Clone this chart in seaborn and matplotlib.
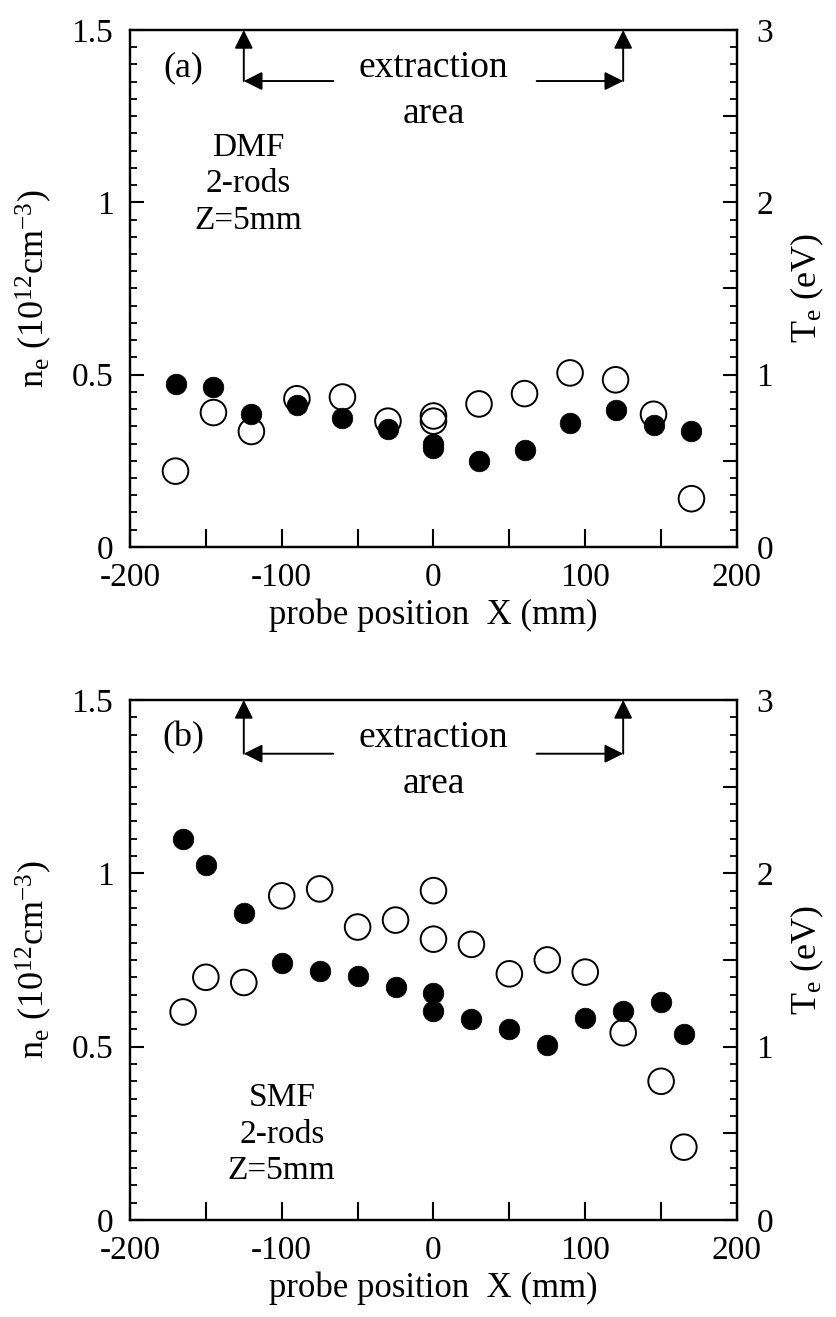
import numpy as np
import pandas as pd
import matplotlib
matplotlib.use("Agg")
import matplotlib.pyplot as plt
from matplotlib.ticker import MultipleLocator, FuncFormatter
import seaborn as sns

# ---------------- data ----------------
# panel (a): DMF
xa_ne = [-170, -145, -120, -90, -60, -30, 0, 0, 30, 60, 90, 120, 145, 170]
ne_a = [0.474, 0.464, 0.387, 0.411, 0.374, 0.342, 0.298, 0.286, 0.25, 0.281, 0.361, 0.398, 0.353, 0.337]
xa_te = [-170, -145, -120, -90, -60, -30, 0, 0, 30, 60, 90, 120, 145, 170]
te_a = [0.44, 0.78, 0.67, 0.86, 0.87, 0.73, 0.76, 0.73, 0.83, 0.89, 1.01, 0.97, 0.77, 0.28]

# panel (b): SMF
xb_ne = [-165, -150, -125, -100, -75, -50, -25, 0, 0, 25, 50, 75, 100, 125, 150, 165]
ne_b = [1.099, 1.024, 0.886, 0.740, 0.718, 0.705, 0.673, 0.656, 0.603, 0.580, 0.552, 0.505, 0.582, 0.603, 0.628, 0.536]
xb_te = [-165, -150, -125, -100, -75, -50, -25, 0, 0, 25, 50, 75, 100, 125, 150, 165]
te_b = [1.20, 1.40, 1.37, 1.87, 1.91, 1.69, 1.73, 1.90, 1.62, 1.59, 1.42, 1.50, 1.43, 1.08, 0.80, 0.42]

panel_tags = ["(a)", "(b)"]
conditions = [["DMF", "2-rods", "Z=5mm"], ["SMF", "2-rods", "Z=5mm"]]
x_ticklabels = [-200, -100, 0, 100, 200]

# ---------------- style ----------------
sns.set_theme(style="ticks")
plt.rcParams["font.family"] = ["Liberation Serif", "DejaVu Serif"]
plt.rcParams["mathtext.fontset"] = "custom"
plt.rcParams["mathtext.rm"] = "Liberation Serif"
plt.rcParams["mathtext.it"] = "Liberation Serif:italic"
plt.rcParams["mathtext.default"] = "regular"
plt.rcParams["axes.unicode_minus"] = False
plt.rcParams["axes.linewidth"] = 1.6
for key in ["text.color", "axes.labelcolor", "xtick.color", "ytick.color",
            "axes.edgecolor", "xtick.labelcolor", "ytick.labelcolor"]:
    plt.rcParams[key] = "black"

fig = plt.figure(figsize=(8.37, 13.17), dpi=100)
ax_a = fig.add_axes([0.1553, 0.5847, 0.7252, 0.3925])
ax_b = fig.add_axes([0.1553, 0.0737, 0.7252, 0.3948])

arrow_kw = dict(arrowstyle="-|>", mutation_scale=28, lw=1.4, color="black",
                shrinkA=0, shrinkB=0)


def setup(ax, xs_ne, ne, xs_te, te, tag, cond, cond_x, cond_y, ytxt, yarr):
    sns.scatterplot(x=xs_ne, y=ne, ax=ax, color="black", s=220, marker="o",
                    edgecolor="black", linewidth=0.5, zorder=3, legend=False)
    ax.set_xlim(-200, 200)
    ax.set_ylim(0, 1.5)
    ax.xaxis.set_major_locator(MultipleLocator(50))
    ax.xaxis.set_major_formatter(FuncFormatter(
        lambda v, p: f"{int(round(v))}" if int(round(v)) in x_ticklabels else ""))
    ax.yaxis.set_major_locator(MultipleLocator(0.5))
    ax.yaxis.set_minor_locator(MultipleLocator(0.05))
    ax.yaxis.set_major_formatter(FuncFormatter(lambda v, p: f"{v:g}"))
    ax.tick_params(axis="x", direction="in", length=13, width=1.5, labelsize=24,
                   pad=11, top=False, bottom=True)
    ax.tick_params(axis="y", which="major", direction="in", length=10, width=1.5,
                   labelsize=24, pad=12, left=True, right=False)
    ax.tick_params(axis="y", which="minor", direction="in", length=5, width=1.3,
                   left=True, right=False)
    ax.set_xlabel("probe position  X (mm)", fontsize=25, labelpad=4)
    ax.set_ylabel("n$_e$ (10$^{12}$cm$^{-3}$)", fontsize=26)
    ax.yaxis.set_label_coords(-0.125, 0.5)

    ax2 = ax.twinx()
    sns.scatterplot(x=xs_te, y=te, ax=ax2, color="black", facecolor="none",
                    edgecolor="black", linewidth=1.4, s=340, marker="o",
                    zorder=4, legend=False)
    ax2.set_ylim(0, 3)
    ax2.yaxis.set_major_locator(MultipleLocator(0.5))
    ax2.yaxis.set_minor_locator(MultipleLocator(0.1))
    ax2.yaxis.set_major_formatter(FuncFormatter(
        lambda v, p: f"{v:g}" if abs(v - round(v)) < 1e-6 else ""))
    ax2.tick_params(axis="y", which="major", direction="in", length=10, width=1.5,
                    labelsize=24, pad=14)
    ax2.tick_params(axis="y", which="minor", direction="in", length=5, width=1.3)
    ax2.set_ylabel("T$_e$ (eV)", fontsize=26)
    ax2.yaxis.set_label_coords(1.085, 0.5)
    for sp in ax2.spines.values():
        sp.set_linewidth(1.6)

    # annotations
    ax.text(-165, ytxt + 0.0, tag, fontsize=26, ha="center", va="center")
    ax.text(0, ytxt, "extraction", fontsize=27, ha="center", va="center")
    ax.text(0, ytxt - 0.132, "area", fontsize=27, ha="center", va="center")
    ax.annotate("", xy=(-125, 1.5), xytext=(-125, yarr), arrowprops=arrow_kw)
    ax.annotate("", xy=(-125, yarr), xytext=(-66, yarr), arrowprops=arrow_kw)
    ax.annotate("", xy=(125, 1.5), xytext=(125, yarr), arrowprops=arrow_kw)
    ax.annotate("", xy=(125, yarr), xytext=(68, yarr), arrowprops=arrow_kw)
    for i, line in enumerate(cond):
        ax.text(cond_x, cond_y - i * 0.105, line, fontsize=24, ha="center", va="center")


setup(ax_a, xa_ne, ne_a, xa_te, te_a, panel_tags[0], conditions[0],
      -122, 1.158, 1.39, 1.352)
setup(ax_b, xb_ne, ne_b, xb_te, te_b, panel_tags[1], conditions[1],
      -100, 0.352, 1.39, 1.345)

fig.savefig("out.png", dpi=100, facecolor="white")
